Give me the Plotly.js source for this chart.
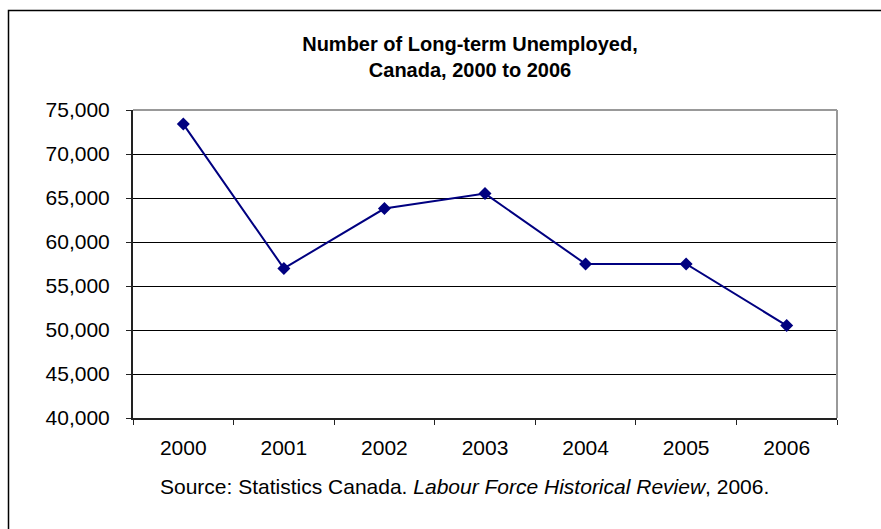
<!DOCTYPE html>
<html>
<head>
<meta charset="utf-8">
<script src="https://cdn.plot.ly/plotly-3.0.1.min.js"></script>
<style>
html,body{margin:0;padding:0;background:#fff;}
#chart{width:881px;height:529px;}
</style>
</head>
<body>
<div id="chart"></div>
<script>
var years = ["2000", "2001", "2002", "2003", "2004", "2005", "2006"];
var unemployed = [73400, 57000, 63800, 65500, 57500, 57500, 50500];
var yTickValues = [40000, 45000, 50000, 55000, 60000, 65000, 70000, 75000];

var FONT = '"Liberation Sans", Arial, sans-serif';

var trace = {
  x: years,
  y: unemployed,
  type: 'scatter',
  mode: 'lines+markers',
  line: {color: '#000080', width: 2},
  marker: {symbol: 'diamond', size: 10, color: '#000080'},
  hoverinfo: 'x+y'
};

var layout = {
  width: 881,
  height: 529,
  margin: {l: 133, r: 44, t: 110, b: 111},
  paper_bgcolor: '#ffffff',
  plot_bgcolor: '#ffffff',
  showlegend: false,
  font: {family: FONT, size: 21, color: '#000'},
  title: {
    text: '<b>Number of Long-term Unemployed,</b><br><b>Canada, 2000 to 2006</b>',
    font: {family: FONT, size: 20, color: '#000'},
    xref: 'container', yref: 'container',
    x: 470 / 881, xanchor: 'center',
    y: 1 - 51 / 529, yanchor: 'middle'
  },
  xaxis: {
    type: 'category',
    categoryorder: 'array',
    categoryarray: years,
    range: [-0.5, 6.5],
    showgrid: false,
    zeroline: false,
    showline: true,
    linecolor: '#222',
    linewidth: 2,
    ticks: 'outside',
    tickson: 'boundaries',
    ticklen: 5,
    tickcolor: '#222',
    tickwidth: 1,
    ticklabelstandoff: 10,
    tickfont: {family: FONT, size: 21, color: '#000'},
    fixedrange: true
  },
  yaxis: {
    range: [40000, 75000],
    tickvals: yTickValues,
    tickformat: ',',
    showgrid: true,
    gridcolor: '#000',
    gridwidth: 1,
    zeroline: false,
    showline: true,
    linecolor: '#222',
    linewidth: 2,
    ticks: 'outside',
    ticklen: 5,
    tickcolor: '#222',
    tickwidth: 1,
    ticklabelstandoff: 12,
    tickfont: {family: FONT, size: 21, color: '#000'},
    fixedrange: true
  },
  shapes: [
    {type: 'line', xref: 'paper', yref: 'paper', x0: 0, x1: 1, y0: 1, y1: 1,
     line: {color: '#999', width: 2}, layer: 'above'},
    {type: 'line', xref: 'paper', yref: 'paper', x0: 1, x1: 1, y0: 0, y1: 1,
     line: {color: '#999', width: 2}, layer: 'above'},
    {type: 'rect', xref: 'paper', yref: 'paper',
     x0: (8.5 - 133) / 704, x1: 1.2,
     y0: -0.6, y1: 1 + (110 - 10.5) / 308,
     line: {color: '#000', width: 1.5}, fillcolor: 'rgba(0,0,0,0)', layer: 'below'}
  ],
  annotations: [
    {
      text: 'Source: Statistics Canada. <i>Labour Force Historical Review</i>, 2006.',
      xref: 'paper', yref: 'paper',
      x: (464.5 - 133) / 704, xanchor: 'center',
      y: (418 - 486) / 308, yanchor: 'middle',
      showarrow: false,
      font: {family: FONT, size: 21, color: '#000'}
    }
  ]
};

Plotly.newPlot('chart', [trace], layout, {displayModeBar: false, staticPlot: true});
</script>
</body>
</html>
